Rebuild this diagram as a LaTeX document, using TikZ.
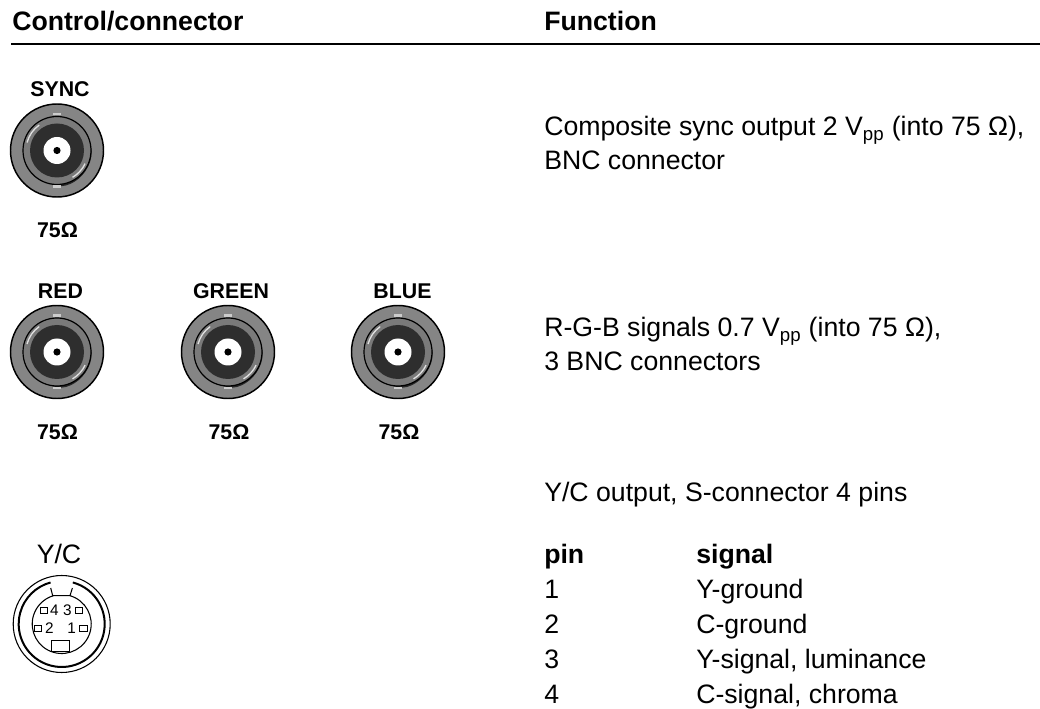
\documentclass[tikz,border=0pt]{standalone}
\usepackage{fontspec}
\setmainfont{Liberation Sans}
\tikzset{
  lab/.style={anchor=base west, inner sep=0pt, font=\fontsize{20}{24}\selectfont},
  head/.style={lab, font=\fontsize{20}{24}\selectfont\bfseries},
  tag/.style={anchor=base, inner sep=0pt, font=\fontsize{16}{19}\selectfont\bfseries},
  pinbox/.style={line width=0.7pt},
  pinnum/.style={anchor=center, inner sep=0pt, font=\fontsize{11.5}{13}\selectfont},
}
\newcommand{\bncconn}[2]{
  \begin{scope}[shift={(#1,#2)}, yscale=-1]
    \draw[line width=1.1pt, fill=black!48] (0,0) circle (46.5);
    \fill[black!85] (25:33) .. controls (-15:49) and (-75:49) .. (-105:33) -- (0,0) -- cycle;
    \draw[line width=0.9pt, fill=black!52] (0,0) circle (34);
    \fill[black!82] (0,0) circle (27);
    \draw[black!12, line width=1pt] (125:31) arc (125:165:31);
    \draw[black!12, line width=1pt] (-25:31) arc (-25:-60:31);
    \fill[black!20] (-4,35) rectangle (4,37.5);
    \fill[black!20] (-4,-35) rectangle (4,-37.5);
    \fill[white] (0,0) circle (13.5);
    \fill[black] (0,0) circle (3.6);
  \end{scope}
}
\begin{document}
\begin{tikzpicture}[x=0.75pt, y=-0.75pt]
\useasboundingbox (0,0) rectangle (1040,709);

\node[head] (hcontrol) at (12,31) {Control/connector};
\node[head] (hfunction) at (544,31) {Function};
\coordinate (rulea) at (11,44);
\coordinate (ruleb) at (1040,44);
\draw[line width=0.9pt] (rulea) -- (ruleb);

\node[tag] (sync) at (60,97) {SYNC};
\bncconn{57}{150.5}
\node[tag] (ohma) at (57.5,238) {75Ω};

\node[tag] (red) at (60.5,299) {RED};
\node[tag] (green) at (231,299) {GREEN};
\node[tag] (blue) at (402.5,299) {BLUE};
\bncconn{57}{352}
\bncconn{228}{352}
\bncconn{398}{352}
\node[tag] (ohmb) at (57.5,440) {75Ω};
\node[tag] (ohmc) at (229,440) {75Ω};
\node[tag] (ohmd) at (399,440) {75Ω};

\node[lab] (synca) at (544,136) {Composite sync output 2 V\textsubscript{pp} (into 75 Ω),};
\node[lab] (syncb) at (544,170) {BNC connector};
\node[lab] (rgba) at (544,337) {R-G-B signals 0.7 V\textsubscript{pp} (into 75 Ω),};
\node[lab] (rgbb) at (544,371) {3 BNC connectors};
\node[lab] (yca) at (544,502) {Y/C output, S-connector 4 pins};

\node[head] (pin) at (544,563) {pin};
\node[head] (signal) at (696,563) {signal};
\node[lab] (pina) at (544,598) {1};
\node[lab] (pinb) at (544,633) {2};
\node[lab] (pinc) at (544,668) {3};
\node[lab] (pind) at (544,703) {4};
\node[lab] (siga) at (696,598) {Y-ground};
\node[lab] (sigb) at (696,633) {C-ground};
\node[lab] (sigc) at (696,668) {Y-signal, luminance};
\node[lab] (sigd) at (696,703) {C-signal, chroma};

% S-connector
\node[lab, anchor=base] (yc) at (59,563) {Y/C};
\begin{scope}[shift={(61.7,624)}, yscale=-1]
  \draw[line width=0.8pt] (0,0) circle (48.5);
  \draw[line width=1.5pt] (75:43) arc (75:-255:43);
  \draw[line width=0.8pt] (-11,36) -- (-9,28.3) -- (8.3,28.3) -- (10.7,36);
  \draw[line width=0.8pt] (8.3,28.3) arc (73.7:-253.7:29.5);
  \draw[pinbox] (-21,16.7) rectangle (-14,10.7);
  \draw[pinbox] (13.3,16.7) rectangle (21,10.7);
  \draw[pinbox] (-27.7,-1.7) rectangle (-20,-7);
  \draw[pinbox] (17.7,-1.7) rectangle (25.7,-7);
  \draw[pinbox] (-10.7,-16.7) rectangle (7.3,-27.7);
\end{scope}
\node[pinnum] (numfour) at (54.3,610) {4};
\node[pinnum] (numthree) at (67.3,610) {3};
\node[pinnum] (numtwo) at (49.3,628.3) {2};
\node[pinnum] (numone) at (71.7,628.3) {1};
\end{tikzpicture}
\end{document}
